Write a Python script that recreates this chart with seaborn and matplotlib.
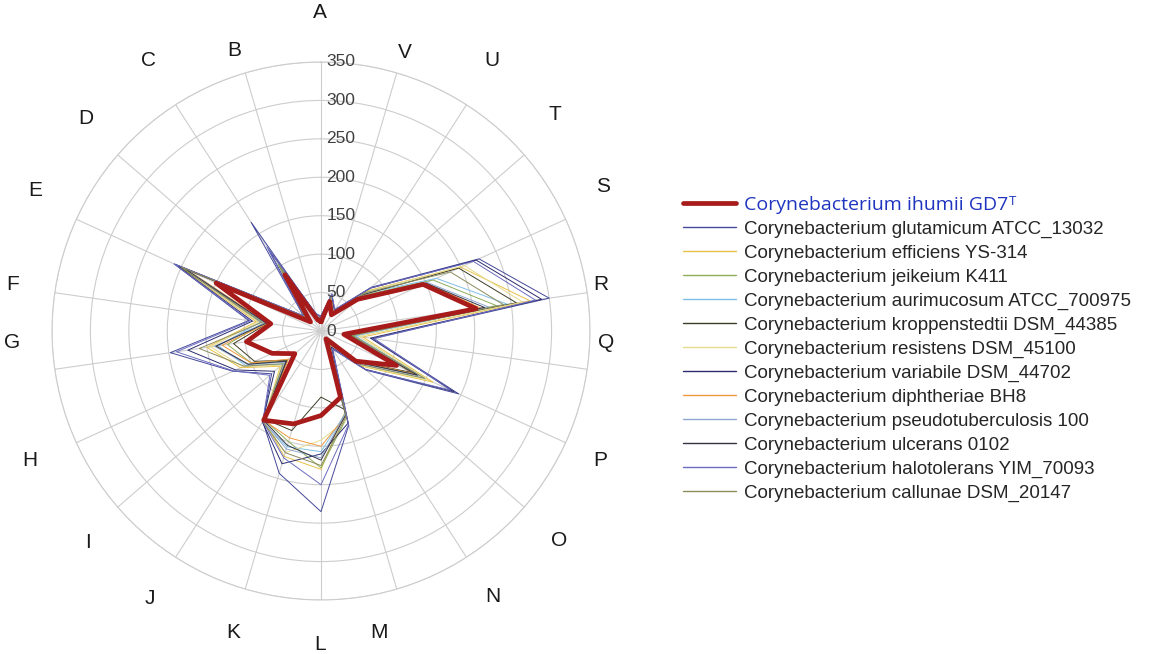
import numpy as np
import pandas as pd
import matplotlib
matplotlib.use('Agg')
import matplotlib.pyplot as plt
import matplotlib.transforms as mtrans
import seaborn as sns

sns.set_style('white')
plt.rcParams['font.family'] = ['Liberation Sans', 'DejaVu Sans']

# COG categories, counter-clockwise from the top
categories = list('ABCDEFGHIJKLMNOPQRSTUV')

strains = [
    'Corynebacterium ihumii GD7',
    'Corynebacterium glutamicum ATCC_13032',
    'Corynebacterium efficiens YS-314',
    'Corynebacterium jeikeium K411',
    'Corynebacterium aurimucosum ATCC_700975',
    'Corynebacterium kroppenstedtii DSM_44385',
    'Corynebacterium resistens DSM_45100',
    'Corynebacterium variabile DSM_44702',
    'Corynebacterium diphtheriae BH8',
    'Corynebacterium pseudotuberculosis 100',
    'Corynebacterium ulcerans 0102',
    'Corynebacterium halotolerans YIM_70093',
    'Corynebacterium callunae DSM_20147',
]

#            A   B    C   D    E   F    G    H   I    J    K    L    M   N   O    P   Q    R    S   T   U   V
ihumii   = [12, 15,  87, 18, 150, 66,  98,  70, 45, 138, 126, 110,  90, 12, 60, 108, 30, 204, 146, 63, 25, 40]
glutam   = [20, 22, 168, 30, 210, 95, 198, 126, 85, 140, 193, 235, 128, 28, 78, 197, 68, 300, 226, 87, 33, 50]
effic    = [15, 20,  95, 28, 205, 85, 150, 115, 70, 138, 170, 180, 110, 22, 70, 160, 55, 275, 200, 80, 30, 47]
jeik     = [10, 14, 103, 22, 200, 75, 123, 100, 60, 137, 150, 178, 118, 18, 62, 140, 40, 231, 160, 70, 27, 42]
aurim    = [14, 18,  92, 26, 200, 80, 135, 108, 66, 140, 157, 157, 112, 20, 66, 150, 45, 245, 165, 74, 28, 45]
kropp    = [16, 20,  90, 27, 205, 70, 115,  95, 58, 136, 135,  86, 106, 18, 60, 130, 38, 257, 197, 72, 28, 44]
resist   = [13, 17,  88, 25, 195, 82, 145, 112, 68, 139, 165, 142, 120, 20, 68, 155, 50, 265, 205, 78, 29, 46]
variab   = [18, 24, 126, 29, 208, 90, 175, 122, 80, 141, 180, 160, 125, 25, 76, 190, 65, 290, 222, 85, 32, 49]
diphth   = [12, 16,  90, 24, 190, 70, 130, 100, 56, 138, 145, 150, 115, 17, 60, 135, 32, 210, 150, 66, 26, 42]
pseudo   = [13, 17,  90, 25, 192, 74, 140, 105, 62, 139, 160, 165, 112, 19, 63, 140, 36, 220, 152, 68, 27, 43]
ulcer    = [14, 18,  89, 26, 195, 72, 138, 104, 60, 138, 155, 168, 114, 18, 62, 138, 34, 215, 150, 67, 26, 43]
halot    = [19, 23, 130, 30, 210, 93, 190, 125, 88, 140, 172, 200, 127, 27, 77, 185, 70, 282, 218, 86, 33, 50]
callun   = [15, 19, 100, 27, 200, 78, 160, 110, 65, 140, 165, 175, 116, 20, 66, 148, 42, 240, 185, 76, 29, 45]

series = [ihumii, glutam, effic, jeik, aurim, kropp, resist, variab, diphth, pseudo, ulcer, halot, callun]

colors = ['#a81b1b', '#44489a', '#e8c14a', '#8fae5a', '#7fbfe6', '#3d3d26', '#e6dc8c',
          '#2b2b6e', '#ee9a3c', '#8fa8d0', '#333344', '#6b6bc0', '#8c8c5c']
palette = dict(zip(strains, colors))
sizes = {s: (3.4 if i == 0 else 0.7) for i, s in enumerate(strains)}

# where the category letters sit in the figure (pixels from top-left)
label_xy = {'A': (320, 12), 'B': (234, 50), 'C': (148, 60), 'D': (86, 118), 'E': (35, 190),
            'F': (13, 285), 'G': (12, 342), 'H': (30, 460), 'I': (88, 542), 'J': (150, 598),
            'K': (233, 632), 'L': (320, 645), 'M': (379, 632), 'N': (493, 597), 'O': (559, 540),
            'P': (600, 460), 'Q': (606, 342), 'R': (601, 285), 'S': (603, 187), 'T': (555, 115),
            'U': (492, 60), 'V': (405, 52)}

angles = np.linspace(0, 2 * np.pi, len(categories), endpoint=False)
rows = []
for name, vals in zip(strains, series):
    for k, v in enumerate(vals + vals[:1]):
        rows.append({'strain': name, 'theta': angles[k % len(angles)] + (2 * np.pi if k == len(vals) else 0), 'value': v})
df = pd.DataFrame(rows)

W, H = 1171, 654
fig = plt.figure(figsize=(W / 100, H / 100), dpi=100)
ax = fig.add_axes([52 / W, (323 - 269) / H, 538 / W, 538 / H], projection='polar')
ax.set_theta_zero_location('N')
ax.set_theta_direction(1)

sns.lineplot(data=df, x='theta', y='value', hue='strain', size='strain',
             hue_order=strains, size_order=strains, palette=palette, sizes=sizes,
             estimator=None, sort=False, ax=ax)

for ln in ax.lines:
    if matplotlib.colors.to_hex(ln.get_color()) == colors[0]:
        ln.set_zorder(5)

grid_c = '#cdcdcd'
ax.set_ylim(0, 350)
ax.set_yticks(range(0, 351, 50))
ax.set_yticklabels([])
ax.set_xticks(angles)
ax.set_xticklabels([])
ax.grid(True, color=grid_c, linewidth=0.8)
ax.spines['polar'].set_color(grid_c)
ax.spines['polar'].set_linewidth(0.8)
ax.set_xlabel('')
ax.set_ylabel('')

for c in categories:
    x, y = label_xy[c]
    fig.text(x / W, 1 - y / H, c, ha='center', va='center', fontsize=15, color='#1a1a1a')

off = mtrans.ScaledTranslation(4 / 72, 0, fig.dpi_scale_trans)
for v in range(0, 351, 50):
    ax.text(0, v, str(v), ha='left', va='center', fontsize=12.5, color='#404040',
            transform=ax.transData + off, zorder=6)

sns.move_legend(ax, 'upper left', bbox_to_anchor=(683 / W, 1 - 196 / H),
                bbox_transform=fig.transFigure, title=None, frameon=False,
                fontsize=13.5, handlelength=2.8, handletextpad=0.45,
                labelspacing=0.36, borderpad=0, borderaxespad=0)
leg = ax.get_legend()
for h, c in zip(leg.legend_handles, colors):
    h.set_color(c)
    h.set_linewidth(3.4 if c == colors[0] else 1.0)
t0 = leg.get_texts()[0]
t0.set_color('#1f35c0')
t0.set_fontfamily(['Open Sans', 'DejaVu Sans'])
t0.set_fontsize(14)
for t in leg.get_texts()[1:]:
    t.set_color('#262626')

# superscript "T" after the type strain name
fig.canvas.draw()
bb = t0.get_window_extent()
fig.text((bb.x1 + 1) / W, (bb.y1 + 1) / H, 'T',
         color='#1f35c0', fontsize=9.5, family=['Open Sans', 'DejaVu Sans'],
         ha='left', va='top')

fig.savefig('out.png', dpi=100)
